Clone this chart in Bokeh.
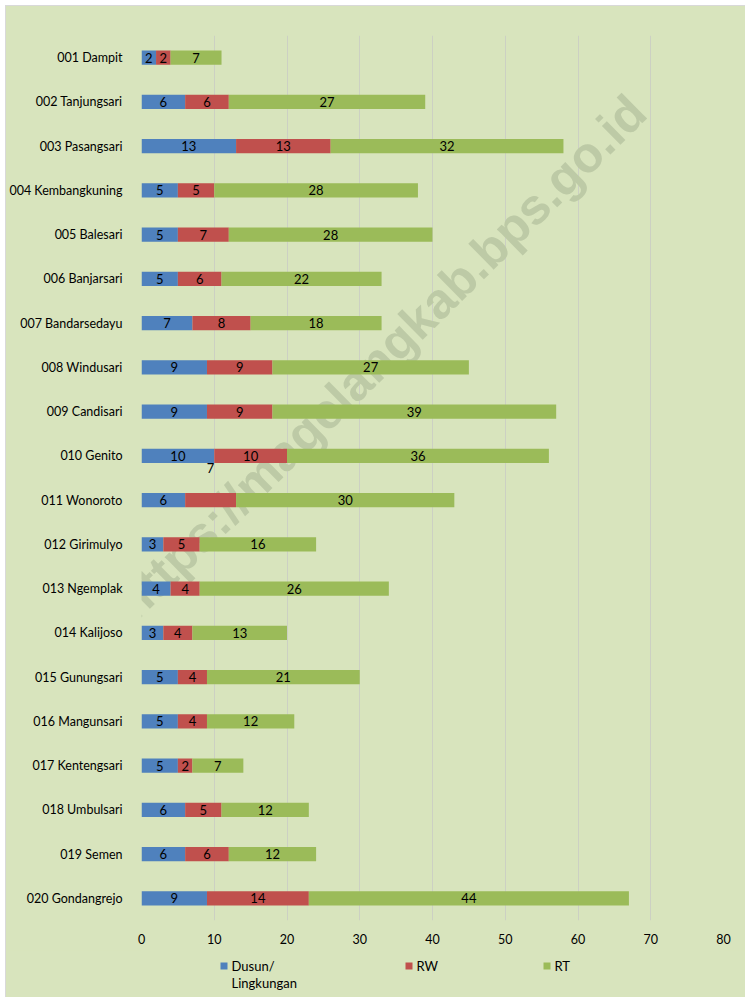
from bokeh.plotting import figure
from bokeh.models import ColumnDataSource, Range1d, Label, FixedTicker
from bokeh.layouts import column
from bokeh.core.properties import value
from bokeh.embed import file_html
from bokeh.resources import INLINE
import math

villages = ["001 Dampit", "002 Tanjungsari", "003 Pasangsari", "004 Kembangkuning",
            "005 Balesari", "006 Banjarsari", "007 Bandarsedayu", "008 Windusari",
            "009 Candisari", "010 Genito", "011 Wonoroto", "012 Girimulyo",
            "013 Ngemplak", "014 Kalijoso", "015 Gunungsari", "016 Mangunsari",
            "017 Kentengsari", "018 Umbulsari", "019 Semen", "020 Gondangrejo"]
dusun = [2, 6, 13, 5, 5, 5, 7, 9, 9, 10, 6, 3, 4, 3, 5, 5, 5, 6, 6, 9]
rw = [2, 6, 13, 5, 7, 6, 8, 9, 9, 10, 7, 5, 4, 4, 4, 4, 2, 5, 6, 14]
rt = [7, 27, 32, 28, 28, 22, 18, 27, 39, 36, 30, 16, 26, 13, 21, 12, 7, 12, 12, 44]
series_names = ["Dusun/\nLingkungan", "RW", "RT"]
x_ticks = [0, 10, 20, 30, 40, 50, 60, 70, 80]

colors = ["#4F81BD", "#C0504D", "#9BBB59"]
BG = "#D8E4BD"
FONT = "Lato"

ypos = [i + 0.5 for i in range(len(villages))]
source = ColumnDataSource(dict(y=ypos, village=villages, dusun=dusun, rw=rw, rt=rt))

# main chart: canvas spans page x 6..745, y 6..950
p = figure(width=739, height=944, output_backend="svg", toolbar_location=None,
           y_range=Range1d(len(villages), 0), x_range=Range1d(0, 80),
           min_border_left=135, min_border_right=22, min_border_top=29, min_border_bottom=30)
p.background_fill_color = None
p.border_fill_color = BG
p.outline_line_color = None

p.extra_x_ranges = {"px": Range1d(141, 723)}
p.extra_y_ranges = {"px": Range1d(920, 35)}

# watermark
wm = Label(x=380, y=357, x_range_name="px", y_range_name="px",
           text="https://magelangkab.bps.go.id", angle=math.radians(44.6),
           text_align="center", text_baseline="middle",
           text_font="Liberation Sans", text_font_style="bold",
           text_font_size="50px", text_color="#BDCAA6", level="underlay")
p.add_layout(wm)

p.hbar_stack(["dusun", "rw", "rt"], y="y", height=0.32, color=colors,
             line_color=None, source=source)

# data labels
lx, ly, lt, loff = [], [], [], []
for i, v in enumerate(villages):
    a, b, c = dusun[i], rw[i], rt[i]
    for start, val in ((0, a), (a, b), (a + b, c)):
        lx.append(start + val / 2)
        ly.append(ypos[i])
        lt.append(str(val))
        loff.append(0)
# the RW label of 011 Wonoroto sits displaced above its bar in the original
idx = villages.index("011 Wonoroto") * 3 + 1
loff[idx] = -32
lsrc = ColumnDataSource(dict(x=lx, y=ly, t=lt, off=loff))
p.text(x="x", y="y", text="t", y_offset="off", source=lsrc, text_align="center",
       text_baseline="middle", text_font=value(FONT), text_font_size="13px",
       text_color="#000000")

p.xgrid.grid_line_color = "#CCD0C3"
p.ygrid.grid_line_color = None
p.xaxis.ticker = x_ticks
p.yaxis.ticker = FixedTicker(ticks=ypos)
p.yaxis.major_label_overrides = {y: v for y, v in zip(ypos, villages)}

for ax in (p.xaxis[0], p.yaxis[0]):
    ax.axis_line_color = None
    ax.major_tick_line_color = None
    ax.minor_tick_line_color = None
    ax.major_label_text_font = FONT
    ax.major_label_text_font_size = "12.5px"
    ax.major_label_text_color = "#000000"
p.yaxis.major_label_standoff = 13
p.xaxis.major_label_standoff = 7

# legend strip below (its frame lines up with the main frame: page x 141..723, y 950..997)
lg = figure(width=739, height=47, output_backend="svg", toolbar_location=None,
            x_range=Range1d(141, 723), y_range=Range1d(997, 950),
            min_border_left=135, min_border_right=22, min_border_top=0, min_border_bottom=0)
lg.axis.visible = False
lg.grid.visible = False
lg.background_fill_color = None
lg.border_fill_color = BG
lg.outline_line_color = None

leg_x = [220, 405, 543]
leg_src = ColumnDataSource(dict(x=[x + 3.5 for x in leg_x], y=[965.5] * 3, c=colors))
lg.rect(x="x", y="y", width=7, height=7, fill_color="c", line_color=None, source=leg_src)
tx, ty, tt = [], [], []
for name, lx0 in zip(series_names, leg_x):
    for j, ln in enumerate(name.split("\n")):
        tx.append(lx0 + 11)
        ty.append(965 + 17 * j)
        tt.append(ln)
lg.text(x=tx, y=ty, text=tt, text_align="left", text_baseline="middle",
        text_font=value(FONT), text_font_size="13px", text_color="#000000")

layout = column(p, lg, spacing=0,
                styles={"margin-left": "5px", "margin-top": "5px",
                        "border-left": "1px solid #D9D9D9", "border-top": "1px solid #D9D9D9",
                        "background-color": BG})

open("out.html", "w").write(file_html(layout, INLINE))
